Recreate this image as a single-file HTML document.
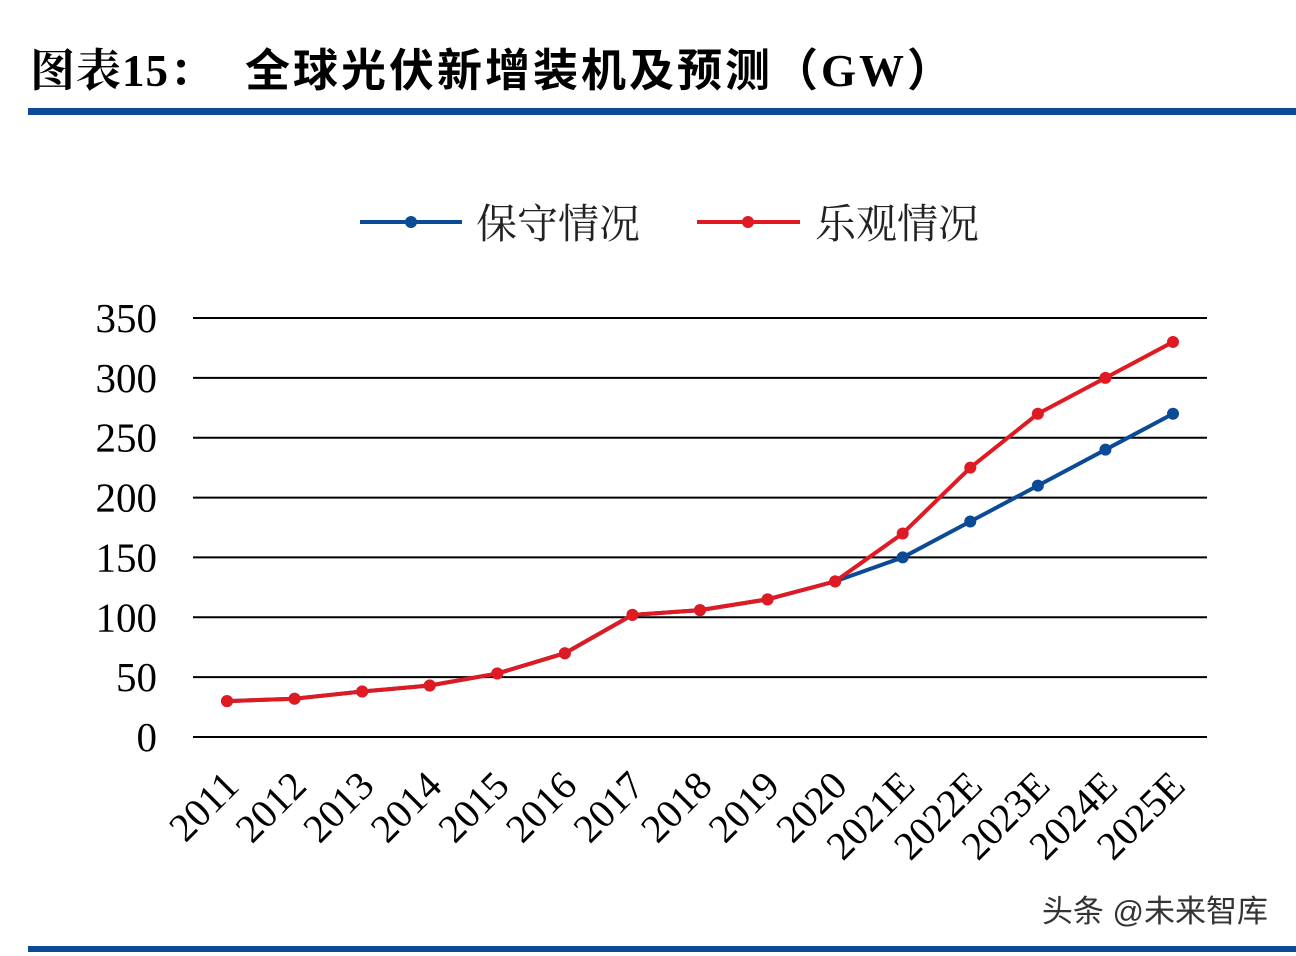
<!DOCTYPE html>
<html><head><meta charset="utf-8"><style>
body{margin:0;background:#fff;width:1296px;height:956px;overflow:hidden}
svg{display:block}
</style></head><body>
<svg width="1296" height="956" xmlns="http://www.w3.org/2000/svg">
<text x="30" y="86" font-family="'Liberation Serif','Noto Serif CJK SC',serif" font-weight="bold" font-size="45" letter-spacing="1" fill="#000">图表15：</text>
<text x="245" y="86" font-family="'Liberation Serif','Noto Sans CJK SC',sans-serif" font-weight="bold" font-size="45" letter-spacing="3" fill="#000">全球光伏新增装机及预测（GW）</text>
<rect x="28" y="108" width="1268" height="7" fill="#0b4a96"/>
<rect x="28" y="946" width="1268" height="6" fill="#0b4a96"/>
<g>
<g>
<line x1="360" y1="222" x2="462" y2="222" stroke="#0b4a96" stroke-width="4"/><circle cx="411" cy="222" r="6" fill="#0b4a96"/>
<text x="476" y="238" font-family="'Noto Serif CJK SC',serif" font-size="41" fill="#222">保守情况</text></g>
<g>
<line x1="697" y1="222" x2="800" y2="222" stroke="#e01a22" stroke-width="4"/><circle cx="748" cy="222" r="6" fill="#e01a22"/>
<text x="815" y="238" font-family="'Noto Serif CJK SC',serif" font-size="41" fill="#222">乐观情况</text></g>
</g>
<g id="grid"></g><g id="xl"></g><g id="yl"></g><g id="series"></g>
<text x="1268" y="922" text-anchor="end" font-family="'Liberation Sans','Noto Sans CJK SC',sans-serif" font-size="31" fill="#333">头条 @未来智库</text>
</svg>
<script>
const categories=["2011","2012","2013","2014","2015","2016","2017","2018","2019","2020","2021E","2022E","2023E","2024E","2025E"];
const conservative=[30,32,38,43,53,70,102,106,115,130,150,180,210,240,270];
const optimistic=[30,32,38,43,53,70,102,106,115,130,170,225,270,300,330];
const yTicks=[0,50,100,150,200,250,300,350];
const NS="http://www.w3.org/2000/svg";
const x=i=>227+i*(1173-227)/14;
const y=v=>737-v*(737-318)/350;
function mk(t,a,p){const e=document.createElementNS(NS,t);for(const k in a)e.setAttribute(k,a[k]);p.appendChild(e);return e;}
const g=document.getElementById('grid'),yl=document.getElementById('yl'),xl=document.getElementById('xl'),sg=document.getElementById('series');
yTicks.forEach(v=>{
 const l=mk('line',{x1:193,x2:1207,y1:y(v),y2:y(v),stroke:'#000','stroke-width':2},g);
 
 
 const t=mk('text',{x:157,y:y(v)+14,'text-anchor':'end','font-family':"'Liberation Serif',serif",'font-size':41,fill:'#000'},yl);
 t.textContent=v;
 
 
});
categories.forEach((c,i)=>{
 const t=mk('text',{x:0,y:0,transform:`translate(${x(i)+14},${788}) rotate(-45)`,'text-anchor':'end','font-family':"'Liberation Serif',serif",'font-size':40,fill:'#000'},xl);
 t.textContent=c;
 
 
});
[[conservative,'#0b4a96','conservative'],[optimistic,'#e01a22','optimistic']].forEach(([d,col,n])=>{
 const p=mk('polyline',{points:d.map((v,i)=>x(i)+','+y(v)).join(' '),fill:'none',stroke:col,'stroke-width':4,'stroke-linejoin':'round'},sg);
 
 
 d.forEach((v,i)=>{
  const c=mk('circle',{cx:x(i),cy:y(v),r:6,fill:col},sg);
  
  
 });
});
</script>
</body></html>
